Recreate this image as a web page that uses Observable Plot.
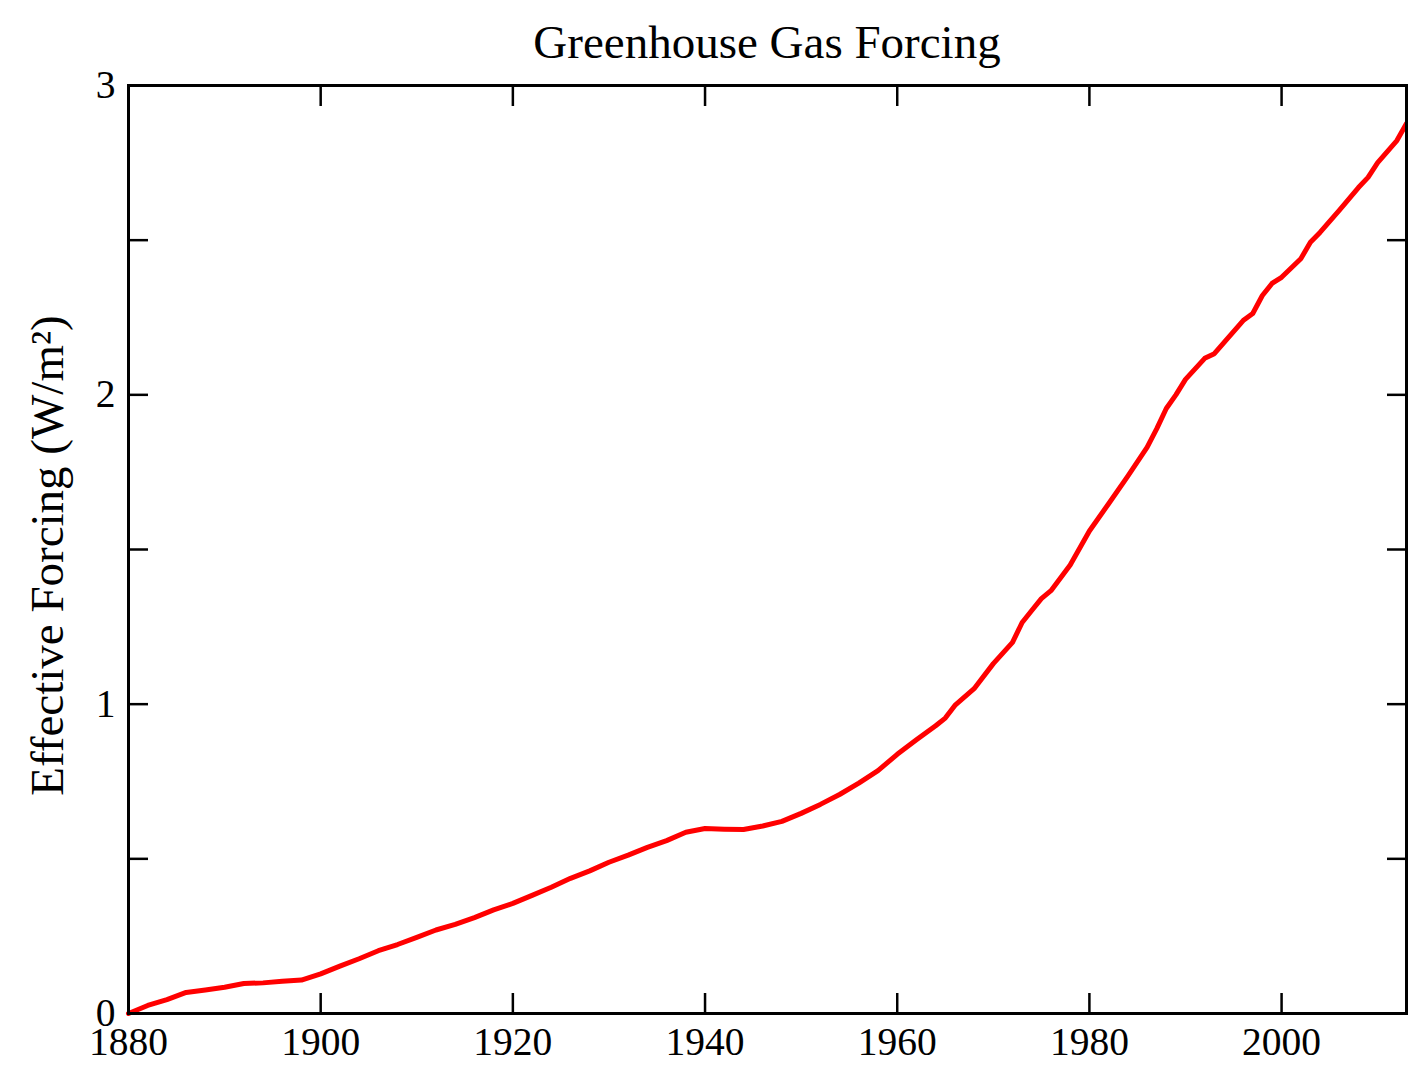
<!DOCTYPE html>
<html>
<head>
<meta charset="utf-8">
<script src="https://cdn.jsdelivr.net/npm/d3@7"></script>
<script src="https://cdn.jsdelivr.net/npm/@observablehq/plot@0.6"></script>
<style>
  html, body { margin: 0; padding: 0; background: #fff; }
  #title {
    box-sizing: border-box;
    width: 1408px;
    height: 70px;
    line-height: 85px;
    padding-left: 128px;
    padding-right: 2px;
    text-align: center;
    font-family: "Liberation Serif", "Times New Roman", serif;
    font-size: 47px;
    color: #000;
    white-space: nowrap;
  }
  #chart svg { display: block; }
</style>
</head>
<body>
<div id="title">Greenhouse Gas Forcing</div>
<div id="chart"></div>
<script>
const titleText = "Greenhouse Gas Forcing";
const yLabel = "Effective Forcing (W/m\u00B2)";

const years = [
  1880, 1882, 1884, 1886, 1888, 1890, 1892, 1894, 1896, 1898,
  1900, 1902, 1904, 1906, 1908, 1910, 1912, 1914, 1916, 1918,
  1920, 1922, 1924, 1926, 1928, 1930, 1932, 1934, 1936, 1938,
  1940, 1942, 1944, 1946, 1948, 1950, 1952, 1954, 1956, 1958,
  1960, 1962, 1964, 1965, 1966, 1968, 1970, 1972, 1973, 1974,
  1975, 1976, 1978, 1980, 1982, 1984, 1986, 1987, 1988, 1989,
  1990, 1992, 1993, 1994, 1996, 1997, 1998, 1999, 2000, 2002,
  2003, 2004, 2006, 2008, 2009, 2010, 2012, 2013
];
const forcing = [
  0.000, 0.026, 0.045, 0.068, 0.076, 0.085, 0.097, 0.099, 0.104, 0.108,
  0.128, 0.153, 0.177, 0.203, 0.223, 0.246, 0.270, 0.288, 0.310, 0.335,
  0.356, 0.382, 0.408, 0.437, 0.461, 0.489, 0.512, 0.537, 0.559, 0.586,
  0.598, 0.596, 0.595, 0.606, 0.621, 0.647, 0.676, 0.708, 0.745, 0.785,
  0.838, 0.885, 0.930, 0.955, 0.996, 1.050, 1.131, 1.200, 1.264, 1.303,
  1.341, 1.367, 1.450, 1.560, 1.648, 1.737, 1.830, 1.890, 1.956, 2.000,
  2.050, 2.118, 2.133, 2.169, 2.240, 2.263, 2.321, 2.360, 2.380, 2.440,
  2.493, 2.525, 2.596, 2.670, 2.703, 2.751, 2.822, 2.877
];

const xTicks = [1880, 1900, 1920, 1940, 1960, 1980, 2000];
const yTicks = [0, 0.5, 1, 1.5, 2, 2.5, 3];
const yTickLabels = ["0", "", "1", "", "2", "", "3"];

const data = years.map((year, i) => ({year, value: forcing[i]}));
const yLabelMap = new Map(yTicks.map((t, i) => [t, yTickLabels[i]]));

const fontFamily = '"Liberation Serif", "Times New Roman", serif';

const chart = Plot.plot({
  width: 1408,
  height: 1006,
  marginTop: 15,
  marginBottom: 63,
  marginLeft: 128,
  marginRight: 2,
  style: {fontFamily, background: "#fff", color: "#000", overflow: "visible"},
  x: {domain: [1880, 2013]},
  y: {domain: [0, 3]},
  marks: [
    Plot.line(data, {x: "year", y: "value", stroke: "#ff0000", strokeWidth: 5, strokeLinejoin: "round"}),
    Plot.axisX({anchor: "bottom", ticks: xTicks, tickFormat: d => String(d), tickSize: -20, tickPadding: 33, strokeWidth: 2.5, fontSize: 39.5, label: null}),
    Plot.axisX({anchor: "top", ticks: xTicks, tickSize: -20, strokeWidth: 2.5, fill: "none", label: null}),
    Plot.axisY({anchor: "left", ticks: yTicks, tickFormat: d => yLabelMap.get(d), tickSize: -20, tickPadding: 33, strokeWidth: 2.5, fontSize: 39.5, label: null}),
    Plot.axisY({anchor: "right", ticks: yTicks, tickSize: -20, strokeWidth: 2.5, fill: "none", label: null}),
    Plot.frame({stroke: "#000", strokeWidth: 3}),
    Plot.text([yLabel], {text: d => d, frameAnchor: "left", textAnchor: "middle", lineAnchor: "middle", rotate: -90, dx: -81, dy: 6, fontSize: 47, fill: "#000"})
  ]
});
document.getElementById("title").textContent = titleText;
document.getElementById("chart").appendChild(chart);
</script>
</body>
</html>
